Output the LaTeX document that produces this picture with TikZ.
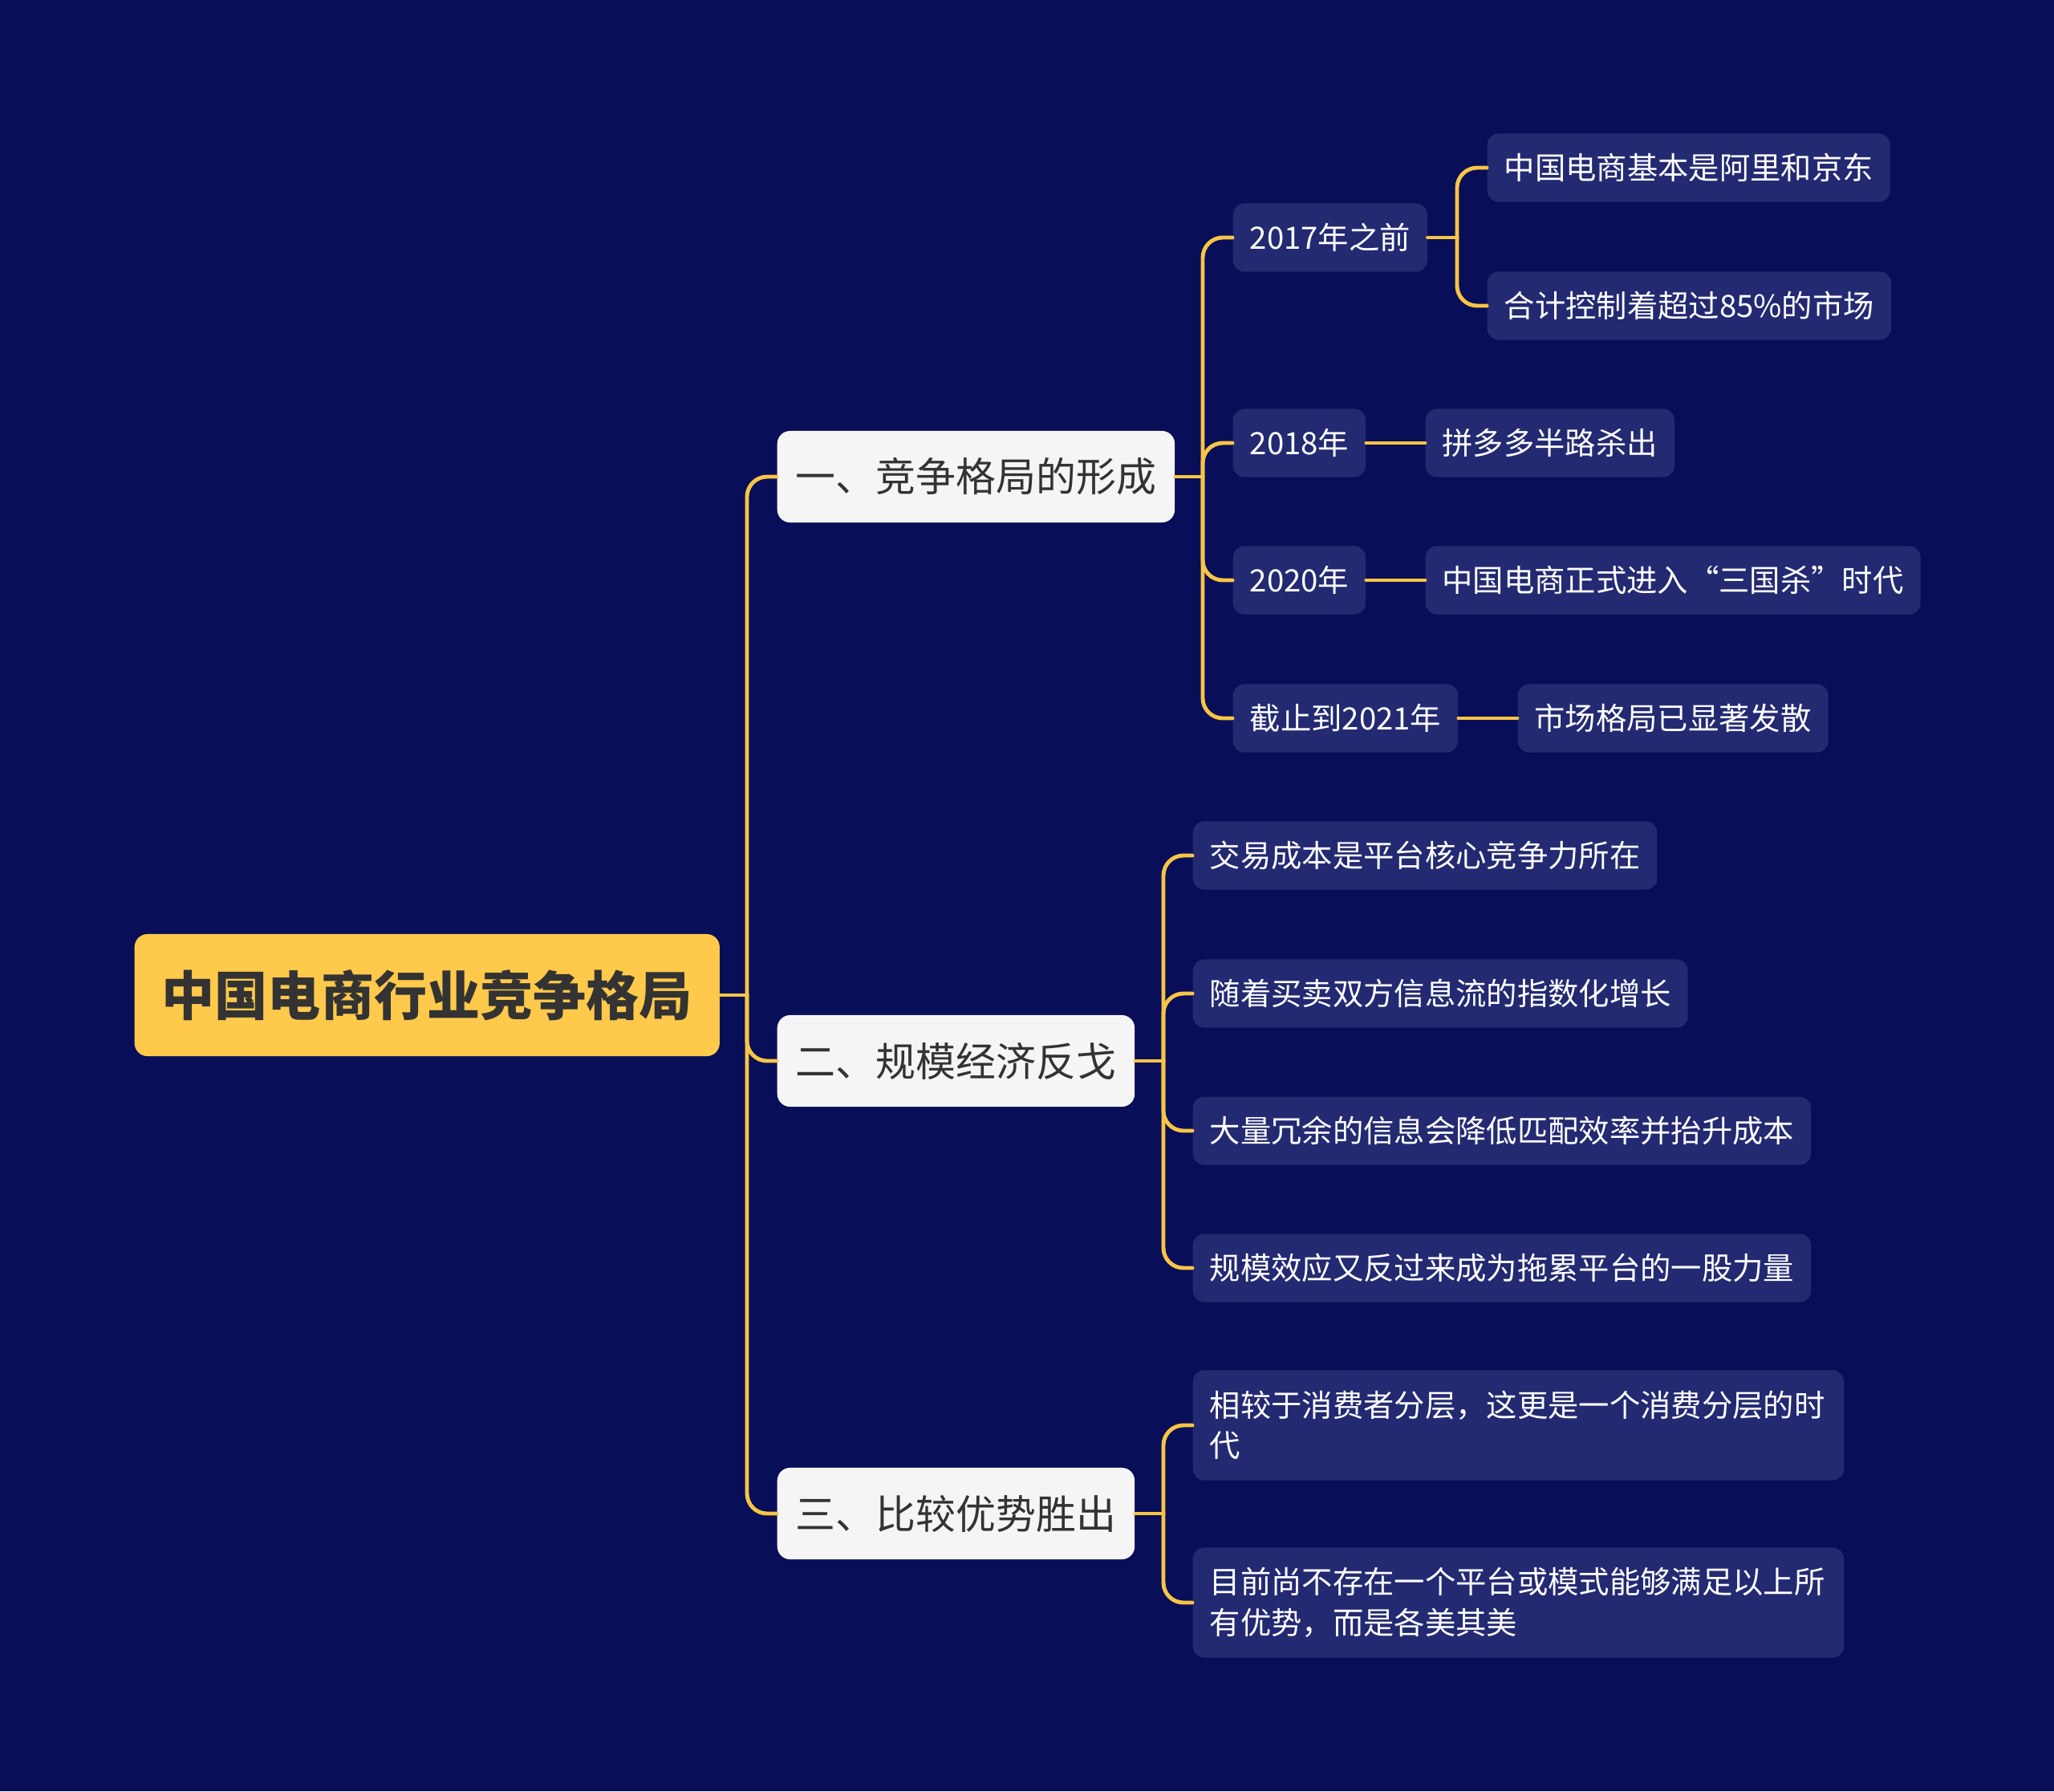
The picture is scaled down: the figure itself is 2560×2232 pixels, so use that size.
\documentclass[tikz,border=0pt]{standalone}
\usepackage{fontspec}
\setmainfont{Noto Sans CJK SC}
\usetikzlibrary{positioning}

\definecolor{bgnavy}{HTML}{090E58}
\definecolor{leafnavy}{HTML}{232A72}
\definecolor{linkgold}{HTML}{F7C544}
\definecolor{rootgold}{HTML}{FFC94B}
\definecolor{topicwhite}{HTML}{F5F5F5}
\definecolor{inkgray}{HTML}{333333}

\newcommand{\lquo}{\makebox[1em][r]{“}}
\newcommand{\rquo}{\makebox[1em][l]{”}}

\tikzset{
  rootbox/.style={fill=rootgold, text=inkgray, rounded corners=0.16cm,
    inner xsep=0.34cm, minimum height=1.52cm,
    font=\fontsize{18.8pt}{22pt}\selectfont\bfseries},
  topicbox/.style={fill=topicwhite, text=inkgray, rounded corners=0.16cm,
    inner xsep=0.23cm, minimum height=1.14cm,
    font=\fontsize{14.2pt}{17pt}\selectfont},
  leafbox/.style={fill=leafnavy, text=white, rounded corners=0.14cm,
    inner xsep=0.21cm, minimum height=0.85cm,
    font=\fontsize{10.9pt}{14.4pt}\selectfont},
  link/.style={draw=linkgold, line width=1.4pt, rounded corners=0.25cm},
}

\begin{document}
\begin{tikzpicture}[x=0.01cm, y=-0.01cm, line cap=round, line join=round]
\fill[bgnavy] (0,0) rectangle (2560,2232);
\useasboundingbox (0,0) rectangle (2560,2232);

% root and the three topics
\node[rootbox, anchor=west] (root) at (167,1240) {中国电商行业竞争格局};
\node[topicbox, anchor=west] (form) at (968,594) {一、竞争格局的形成};
\node[topicbox, anchor=west] (scale) at (968,1322) {二、规模经济反戈};
\node[topicbox, anchor=west] (edge) at (968,1886) {三、比较优势胜出};

% topic one
\node[leafbox, anchor=west] (y17) at (1536,296) {2017年之前};
\node[leafbox, anchor=west] (y18) at (1536,552) {2018年};
\node[leafbox, anchor=west] (y20) at (1536,723) {2020年};
\node[leafbox, anchor=west] (y21) at (1536,895) {截止到2021年};
\node[leafbox, anchor=west] (ali) at (1853,209) {中国电商基本是阿里和京东};
\node[leafbox, anchor=west] (share) at (1853,381) {合计控制着超过85\%的市场};
\node[leafbox, right=0.73cm of y18] (pdd) {拼多多半路杀出};
\node[leafbox, right=0.73cm of y20] (three) {中国电商正式进入\lquo 三国杀\rquo 时代};
\node[leafbox, right=0.73cm of y21] (spread) {市场格局已显著发散};

% topic two
\node[leafbox, anchor=west] (cost) at (1486,1066) {交易成本是平台核心竞争力所在};
\node[leafbox, anchor=west] (flow) at (1486,1238) {随着买卖双方信息流的指数化增长};
\node[leafbox, anchor=west] (noise) at (1486,1409) {大量冗余的信息会降低匹配效率并抬升成本};
\node[leafbox, anchor=west] (drag) at (1486,1580) {规模效应又反过来成为拖累平台的一股力量};

% topic three
\node[leafbox, anchor=west, text width=7.69cm, align=left, minimum height=1.37cm]
  (layer) at (1486,1776) {相较于消费者分层，这更是一个消费分层的时\\代};
\node[leafbox, anchor=west, text width=7.69cm, align=left, minimum height=1.37cm]
  (none) at (1486,1997) {目前尚不存在一个平台或模式能够满足以上所\\有优势，而是各美其美};

% hubs
\coordinate (roothub) at (931,1240);
\coordinate (formhub) at (1499,594);
\coordinate (y17hub) at (1816,296);
\coordinate (scalehub) at (1450,1322);
\coordinate (edgehub) at (1450,1886);

% connectors
\draw[link] (root.east) -- (roothub);
\foreach \t in {form,scale,edge} \draw[link] (roothub) |- (\t.west);
\draw[link] (form.east) -- (formhub);
\foreach \t in {y17,y18,y20,y21} \draw[link] (formhub) |- (\t.west);
\draw[link] (y17.east) -- (y17hub);
\foreach \t in {ali,share} \draw[link] (y17hub) |- (\t.west);
\draw[link] (y18.east) -- (pdd.west);
\draw[link] (y20.east) -- (three.west);
\draw[link] (y21.east) -- (spread.west);
\draw[link] (scale.east) -- (scalehub);
\foreach \t in {cost,flow,noise,drag} \draw[link] (scalehub) |- (\t.west);
\draw[link] (edge.east) -- (edgehub);
\foreach \t in {layer,none} \draw[link] (edgehub) |- (\t.west);
\end{tikzpicture}
\end{document}
